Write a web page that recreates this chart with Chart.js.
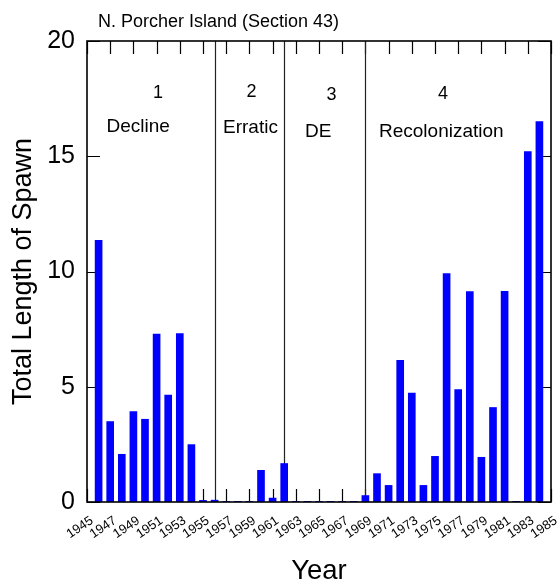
<!DOCTYPE html>
<html>
<head>
<meta charset="utf-8">
<script src="https://cdn.jsdelivr.net/npm/chart.js@4"></script>
<style>
  html, body { margin: 0; padding: 0; background: #fff; }
  #wrap { width: 560px; height: 585px; }
</style>
</head>
<body>
<div id="wrap"><canvas id="c" width="560" height="585"></canvas></div>
<script>
// ---- data ----
const years = [1946,1947,1948,1949,1950,1951,1952,1953,1954,1955,1956,1957,1958,1959,1960,1961,1962,1963,1964,1965,1966,1967,1968,1969,1970,1971,1972,1973,1974,1975,1976,1977,1978,1979,1980,1981,1982,1983,1984];
const spawn = [11.35,3.49,2.07,3.92,3.59,7.28,4.64,7.31,2.49,0.07,0.08,0.03,0.03,0.03,1.375,0.17,1.67,0.03,0.03,0.03,0.03,0.03,0.03,0.28,1.23,0.72,6.15,4.73,0.72,1.98,9.91,4.88,9.13,1.94,4.1,9.14,0.03,15.2,16.5];
const xTickYears = [1945,1947,1949,1951,1953,1955,1957,1959,1961,1963,1965,1967,1969,1971,1973,1975,1977,1979,1981,1983,1985];
const yTickValues = [0,5,10,15,20];
const phaseBoundaries = [1956,1962,1969];
const phaseNumbers = ['1','2','3','4'];
const phaseNames = ['Decline','Erratic','DE','Recolonization'];
const titleText = 'N. Porcher Island (Section 43)';

const FONT = "'Liberation Sans', Arial, Helvetica, sans-serif";

const framePlugin = {
  id: 'frame',
  beforeDatasetsDraw(chart) {
    const {ctx, chartArea: a, scales: {x, y}} = chart;
    const tl = 13;
    ctx.save();
    ctx.strokeStyle = '#000';
    ctx.lineWidth = 1.2;
    ctx.beginPath();
    xTickYears.forEach(v => {
      const px = Math.round(x.getPixelForValue(v)) + 0.5;
      ctx.moveTo(px, a.bottom); ctx.lineTo(px, a.bottom - tl);
      ctx.moveTo(px, a.top); ctx.lineTo(px, a.top + tl);
    });
    yTickValues.forEach(v => {
      const py = Math.round(y.getPixelForValue(v)) + 0.5;
      ctx.moveTo(a.left, py); ctx.lineTo(a.left + tl, py);
      ctx.moveTo(a.right, py); ctx.lineTo(a.right - tl, py);
    });
    ctx.stroke();
    ctx.strokeStyle = '#222';
    ctx.lineWidth = 1.2;
    ctx.beginPath();
    phaseBoundaries.forEach(v => {
      const px = Math.round(x.getPixelForValue(v)) + 0.5;
      ctx.moveTo(px, a.top); ctx.lineTo(px, a.bottom);
    });
    ctx.stroke();
    ctx.restore();
  },
  afterDatasetsDraw(chart) {
    const {ctx, chartArea: a} = chart;
    ctx.save();
    ctx.strokeStyle = '#000';
    ctx.lineWidth = 1.6;
    ctx.strokeRect(a.left, a.top, a.right - a.left, a.bottom - a.top);
    ctx.fillStyle = '#000';
    ctx.textBaseline = 'alphabetic';
    ctx.textAlign = 'left';
    ctx.font = '18px ' + FONT;
    ctx.fillText(titleText, 98, 26.5);
    const numPos = [[153, 98.3],[246.5, 96.7],[326.5, 100],[438, 99.3]];
    phaseNumbers.forEach((t, i) => ctx.fillText(t, numPos[i][0], numPos[i][1]));
    ctx.font = '19px ' + FONT;
    const namePos = [[106.5, 131.7],[223, 133.2],[305, 136.6],[379, 136.7]];
    phaseNames.forEach((t, i) => ctx.fillText(t, namePos[i][0], namePos[i][1]));
    ctx.restore();
  }
};

new Chart(document.getElementById('c'), {
  type: 'bar',
  data: {
    datasets: [{
      data: years.map((yr, i) => ({x: yr, y: spawn[i]})),
      backgroundColor: '#0000FF',
      borderWidth: 0,
      barThickness: 7
    }]
  },
  options: {
    responsive: false,
    animation: false,
    devicePixelRatio: 1,
    layout: { padding: { left: 0, right: 9, top: 41, bottom: 0 } },
    plugins: { legend: { display: false }, tooltip: { enabled: false }, title: { display: false } },
    scales: {
      x: {
        type: 'linear',
        min: 1945, max: 1985,
        offset: false,
        grid: { display: false, drawTicks: false },
        border: { display: false },
        afterBuildTicks: s => { s.ticks = xTickYears.map(v => ({value: v})); },
        afterFit: s => { s.height = 83; s.paddingLeft = 0; s.paddingRight = 0; },
        ticks: {
          autoSkip: false,
          minRotation: 34, maxRotation: 34,
          padding: 11,
          labelOffset: 5,
          color: '#000',
          font: { family: FONT, size: 13 },
          callback: v => String(v)
        },
        title: {
          display: true, text: 'Year', color: '#000',
          font: { family: FONT, size: 27.5, lineHeight: 1 },
          padding: { top: 0, bottom: 0 }
        }
      },
      y: {
        min: 0, max: 20,
        grid: { display: false, drawTicks: false },
        border: { display: false },
        afterBuildTicks: s => { s.ticks = yTickValues.map(v => ({value: v})); },
        afterFit: s => { s.width = 87; s.paddingTop = 0; s.paddingBottom = 0; },
        ticks: {
          padding: 12,
          color: '#000',
          font: { family: FONT, size: 25 },
          callback: v => String(v)
        },
        title: {
          display: true, text: 'Total Length of Spawn', color: '#000',
          font: { family: FONT, size: 27, lineHeight: 1 },
          padding: { top: 10, bottom: 0 }
        }
      }
    }
  },
  plugins: [framePlugin]
});
</script>
</body>
</html>
